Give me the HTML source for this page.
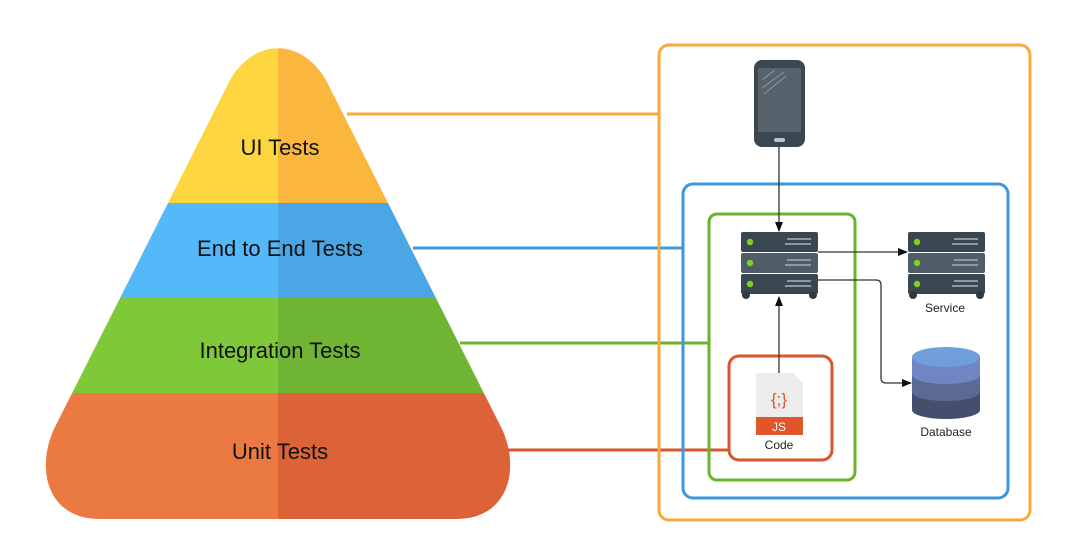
<!DOCTYPE html>
<html><head><meta charset="utf-8"><style>
html,body{margin:0;padding:0;background:#fff;}
svg{display:block;}
text{font-family:"Liberation Sans",sans-serif;}
</style></head><body>
<svg width="1080" height="543" viewBox="0 0 1080 543" xmlns="http://www.w3.org/2000/svg">
<defs>
<clipPath id="pyr"><path d="M 226 88 C 250 35 306 35 330 88 L 500 425 C 521 465 511 519 456 519 L 100 519 C 45 519 35 465 56 425 Z"/></clipPath>
<marker id="ah" markerWidth="10" markerHeight="10" refX="9" refY="5" orient="auto" markerUnits="userSpaceOnUse"><path d="M0,1 L10,5 L0,9 Z" fill="#111"/></marker>
<g id="srv">
<rect x="0" y="0" width="77" height="20" rx="2" fill="#3a4750"/>
<rect x="0" y="21" width="77" height="20" rx="2" fill="#4e5d68"/>
<rect x="0" y="42" width="77" height="20" rx="2" fill="#3a4750"/>
<circle cx="9" cy="10" r="3.2" fill="#7ed321"/><circle cx="9" cy="31" r="3.2" fill="#7ed321"/><circle cx="9" cy="52" r="3.2" fill="#7ed321"/>
<g fill="#8a99a4"><rect x="46" y="6" width="24" height="2"/><rect x="44" y="11" width="26" height="2"/><rect x="46" y="27" width="24" height="2"/><rect x="44" y="32" width="26" height="2"/><rect x="46" y="48" width="24" height="2"/><rect x="44" y="53" width="26" height="2"/></g>
<circle cx="5" cy="63" r="4" fill="#2e3a42"/><circle cx="72" cy="63" r="4" fill="#2e3a42"/>
</g>
</defs>
<g clip-path="url(#pyr)">
<rect x="0" y="0" width="278" height="203" fill="#fdd63f"/><rect x="278" y="0" width="300" height="203" fill="#fbb63e"/>
<rect x="0" y="203" width="278" height="95" fill="#55b8f8"/><rect x="278" y="203" width="300" height="95" fill="#4aa6e4"/>
<rect x="0" y="298" width="278" height="95" fill="#7fc83a"/><rect x="278" y="298" width="300" height="95" fill="#70b434"/>
<rect x="0" y="393" width="278" height="140" fill="#ea7a42"/><rect x="278" y="393" width="300" height="140" fill="#dc6337"/>
</g>
<g font-size="22" fill="#111" text-anchor="middle">
<text x="280" y="155">UI Tests</text>
<text x="280" y="256">End to End Tests</text>
<text x="280" y="358">Integration Tests</text>
<text x="280" y="459">Unit Tests</text>
</g>
<g fill="none" stroke-width="3">
<line x1="347" y1="114" x2="660" y2="114" stroke="#f7a93b"/>
<line x1="413" y1="248" x2="684" y2="248" stroke="#3b97de"/>
<line x1="460" y1="343" x2="710" y2="343" stroke="#6ab42c"/>
<line x1="508" y1="450" x2="730" y2="450" stroke="#d9552d"/>
<rect x="659" y="45" width="371" height="475" rx="10" stroke="#f7a93b"/>
<rect x="683" y="184" width="325" height="314" rx="10" stroke="#3b97de"/>
<rect x="709" y="214" width="146" height="266" rx="8" stroke="#6ab42c"/>
<rect x="729" y="356" width="103" height="104" rx="10" stroke="#d9552d"/>
</g>
<rect x="754" y="60" width="51" height="87" rx="8" fill="#3a4750"/>
<rect x="758" y="68" width="43" height="64" fill="#56636d"/>
<rect x="774" y="138" width="11" height="4" rx="2" fill="#bcc5cc"/>
<g stroke="#8b979f" stroke-width="1"><line x1="762" y1="80" x2="775" y2="70"/><line x1="762" y1="88" x2="784" y2="72"/><line x1="764" y1="94" x2="786" y2="76"/></g>
<use href="#srv" x="741" y="232"/>
<use href="#srv" x="908" y="232"/>
<text x="945" y="312" font-size="12" text-anchor="middle" fill="#222">Service</text>
<path d="M912 358 L912 410 A34 9 0 0 0 980 410 L980 358 Z" fill="#444f6e"/>
<path d="M912 358 L912 392 A34 9 0 0 0 980 392 L980 358 Z" fill="#5a6a93"/>
<path d="M912 358 L912 375 A34 9 0 0 0 980 375 L980 358 Z" fill="#7085c2"/>
<ellipse cx="946" cy="357" rx="34" ry="10" fill="#6f9fd8"/>
<text x="946" y="436" font-size="12" text-anchor="middle" fill="#222">Database</text>
<path d="M756 373 L793 373 L803 383 L803 418 L756 418 Z" fill="#ececec"/>
<rect x="756" y="417" width="47" height="18" fill="#e0552a"/>
<text x="779" y="405" font-size="17" text-anchor="middle" fill="#e0552a" font-family="Liberation Mono,monospace">{;}</text>
<text x="779" y="431" font-size="12" text-anchor="middle" fill="#fff">JS</text>
<text x="779" y="449" font-size="12" text-anchor="middle" fill="#222">Code</text>
<g stroke="#333" stroke-width="1.3" fill="none">
<line x1="779" y1="147" x2="779" y2="231" marker-end="url(#ah)"/>
<line x1="818" y1="252" x2="907" y2="252" marker-end="url(#ah)"/>
<path d="M818 280 L876 280 Q881 280 881 285 L881 378 Q881 383 886 383 L911 383" marker-end="url(#ah)"/>
<line x1="779" y1="373" x2="779" y2="297" marker-end="url(#ah)"/>
</g>
</svg>
</body></html>
